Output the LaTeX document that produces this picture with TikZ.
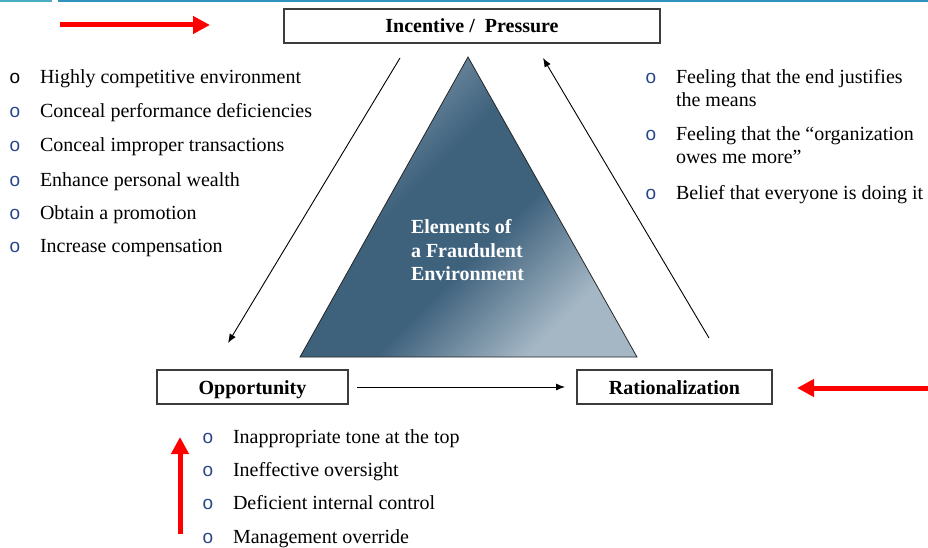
\documentclass[tikz,border=0pt]{standalone}
\usepackage{fontspec}
\setmainfont{Liberation Serif}
\newfontfamily\bulletfont{Liberation Sans}
\usetikzlibrary{arrows.meta}

\definecolor{stripA}{RGB}{75,172,198}
\definecolor{stripB}{RGB}{46,148,190}
\definecolor{triTop}{RGB}{130,155,175}
\definecolor{triDark}{RGB}{62,97,124}
\definecolor{triLight}{RGB}{165,183,197}
\definecolor{bulletblue}{RGB}{40,70,140}
\definecolor{boxline}{RGB}{60,60,60}

% diagonal shading: light at the upper end, a broad dark band, lighter at the lower end
\pgfdeclareverticalshading{triangleshade}{100bp}{%
  color(0bp)=(triLight); color(27bp)=(triLight); color(44bp)=(triDark);
  color(58bp)=(triDark); color(74bp)=(triTop); color(100bp)=(triTop)}

\tikzset{
  every node/.style={inner sep=0pt, outer sep=0pt},
  txt/.style={anchor=base west, font=\fontsize{20}{23}\selectfont},
  bul/.style={anchor=base, font=\bulletfont\fontsize{19}{19}\selectfont, text=bulletblue},
  labelbox/.style={draw=boxline, line width=1.3pt, minimum height=34pt,
                   text height=17pt, text depth=3pt,
                   font=\bfseries\fontsize{20}{23}\selectfont},
  thinarrow/.style={line width=0.9pt, -{Latex[length=9pt,width=7pt]}},
  redarrow/.style={red, line width=5pt, -{Triangle[length=17pt,width=17pt]}},
  tritext/.style={anchor=base west, text=white, font=\bfseries\fontsize{20}{23}\selectfont}
}

\begin{document}
\begin{tikzpicture}[x=1pt, y=-1pt]
  \useasboundingbox (0,0) rectangle (928,548);

  % header strip
  \fill[stripA] (0,0) rectangle (52,2.5);
  \fill[stripB] (58,0) rectangle (928,2.5);

  % central triangle
  \path[draw=black!85, line width=0.8pt, shading=triangleshade, shading angle=45]
    (468,57) -- (637,357) -- (300,357) -- cycle;
  \node[tritext] (el1) at (411,233) {Elements of};
  \node[tritext] (el2) at (411,257) {a Fraudulent};
  \node[tritext] (el3) at (411,280) {Environment};

  % the three corner boxes
  \node[labelbox, minimum width=376pt] (inc) at (472,26) {Incentive / ~Pressure};
  \node[labelbox, minimum width=191pt] (opp) at (252.5,387) {Opportunity};
  \node[labelbox, minimum width=195pt] (rat) at (674.5,387) {Rationalization};

  % cycle arrows
  \coordinate (a1s) at (400,58);
  \coordinate (a1e) at (228,343);
  \coordinate (a2s) at (357,387);
  \coordinate (a2e) at (565,387);
  \coordinate (a3s) at (709,338);
  \coordinate (a3e) at (543,58);
  \draw[thinarrow] (a1s) -- (a1e);
  \draw[thinarrow] (a2s) -- (a2e);
  \draw[thinarrow] (a3s) -- (a3e);

  % red pointer arrows
  \coordinate (r1s) at (60,25);
  \coordinate (r1e) at (210,25);
  \coordinate (r2s) at (928,388);
  \coordinate (r2e) at (797,388);
  \coordinate (r3s) at (180,534);
  \coordinate (r3e) at (180,437);
  \draw[redarrow] (r1s) -- (r1e);
  \draw[redarrow] (r2s) -- (r2e);
  \draw[redarrow] (r3s) -- (r3e);

  % incentive / pressure list
  \node[bul, text=black] (pb1) at (15,84) {o};
  \node[bul] (pb2) at (15,118) {o};
  \node[bul] (pb3) at (15,152) {o};
  \node[bul] (pb4) at (15,186) {o};
  \node[bul] (pb5) at (15,219) {o};
  \node[bul] (pb6) at (15,252) {o};
  \node[txt] (p1) at (40,84) {Highly competitive environment};
  \node[txt] (p2) at (40,118) {Conceal performance deficiencies};
  \node[txt] (p3) at (40,152) {Conceal improper transactions};
  \node[txt] (p4) at (40,186) {Enhance personal wealth};
  \node[txt] (p5) at (40,219) {Obtain a promotion};
  \node[txt] (p6) at (40,252) {Increase compensation};

  % rationalization list
  \node[bul] (rb1) at (651,84) {o};
  \node[bul] (rb2) at (651,141) {o};
  \node[bul] (rb3) at (651,199) {o};
  \node[txt] (r1a) at (676,84) {Feeling that the end justifies};
  \node[txt] (r1b) at (676,107) {the means};
  \node[txt] (r2a) at (676,141) {Feeling that the “organization};
  \node[txt] (r2b) at (676,164) {owes me more”};
  \node[txt] (r3) at (676,199) {Belief that everyone is doing it};

  % opportunity list
  \node[bul] (ob1) at (208,443) {o};
  \node[bul] (ob2) at (208,476) {o};
  \node[bul] (ob3) at (208,509) {o};
  \node[bul] (ob4) at (208,543) {o};
  \node[txt] (o1) at (233,443) {Inappropriate tone at the top};
  \node[txt] (o2) at (233,476) {Ineffective oversight};
  \node[txt] (o3) at (233,509) {Deficient internal control};
  \node[txt] (o4) at (233,543) {Management override};
\end{tikzpicture}
\end{document}
